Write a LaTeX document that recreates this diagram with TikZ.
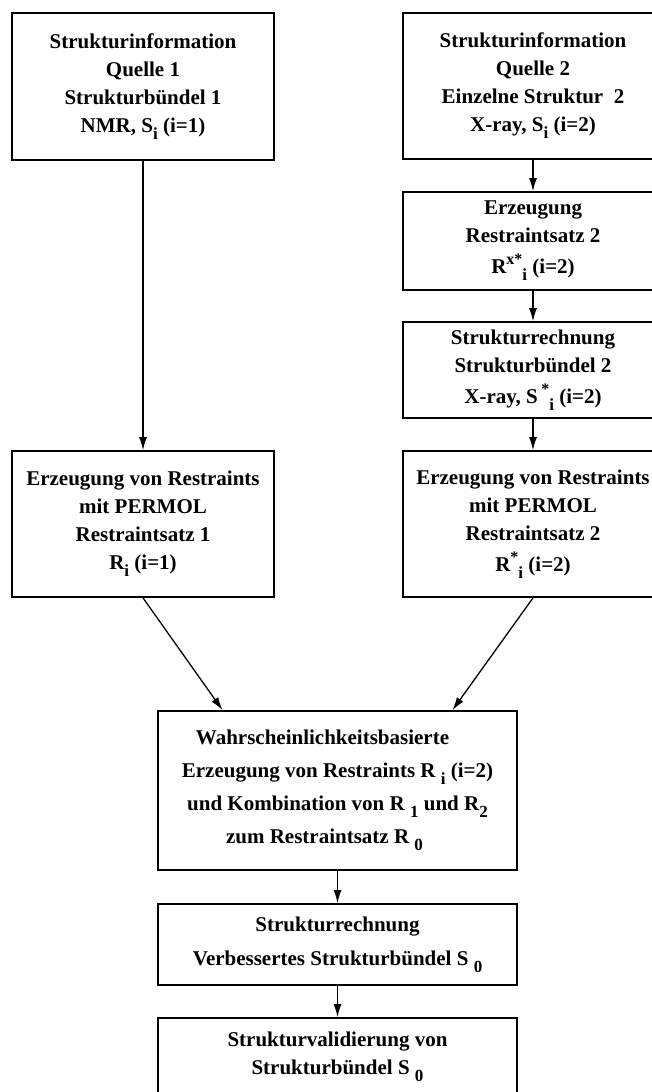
\documentclass[tikz,border=0pt]{standalone}
\usepackage{fontspec}
\setmainfont{Liberation Serif}
\usetikzlibrary{arrows.meta}
% raised and lowered indices, set as plain bold text
\newcommand\upidx[1]{\raisebox{0.42em}{\fontsize{16}{16}\selectfont #1}}
\newcommand\dnidx[1]{\raisebox{-0.34em}{\fontsize{17}{17}\selectfont #1}}
\begin{document}
\begin{tikzpicture}[x=1pt,y=-1pt,
  box/.style={draw,line width=1.8pt,rectangle,inner sep=0pt,align=center,
    font=\fontsize{21}{28}\selectfont\bfseries},
  flow/.style={line width=1.3pt,-{Latex[length=13pt,width=8pt]}}]
\useasboundingbox (0,0) rectangle (652,1092);
\fill[white] (0,0) rectangle (652,1092);
\clip (0,0) rectangle (652,1092);

% left column
\node[box,minimum width=262pt,minimum height=147pt] (srcA) at (143,86.5)
  {Strukturinformation\\ Quelle 1\\ Strukturbündel 1\\ NMR, S\dnidx{i} (i=1)};
\node[box,minimum width=262pt,minimum height=146pt] (resA) at (143,524)
  {Erzeugung von Restraints\\ mit PERMOL\\ Restraintsatz 1\\ R\dnidx{i} (i=1)};

% right column (runs past the right edge)
\node[box,minimum width=260pt,minimum height=146pt] (srcB) at (533,86)
  {Strukturinformation\\ Quelle 2\\ Einzelne Struktur~~2\\ X-ray, S\dnidx{i} (i=2)};
\node[box,minimum width=260pt,minimum height=98pt] (genB) at (533,241)
  {Erzeugung\\ Restraintsatz 2\\[3pt] R\upidx{x*}\dnidx{i} (i=2)};
\node[box,minimum width=260pt,minimum height=96pt] (calcB) at (533,370)
  {Strukturrechnung\\ Strukturbündel 2\\[3pt] X-ray, S\,\upidx{*}\dnidx{i} (i=2)};
\node[box,minimum width=260pt,minimum height=146pt] (resB) at (533,524)
  {Erzeugung von Restraints\\ mit PERMOL\\ Restraintsatz 2\\[3pt] R\upidx{*}\dnidx{i} (i=2)};

% merged chain
\node[box,minimum width=359pt,minimum height=159pt] (comb) at (337.5,790.5)
  {Wahrscheinlichkeitsbasierte\hspace*{30pt}\\[5pt]
   Erzeugung von Restraints R \dnidx{i} (i=2)\\[5pt]
   und Kombination von R \dnidx{1} und R\dnidx{2}\\[5pt]
   zum Restraintsatz R \dnidx{0}\hspace*{26pt}};
\node[box,minimum width=359pt,minimum height=81pt] (calc0) at (337.5,944.5)
  {Strukturrechnung\\[6pt] Verbessertes Strukturbündel S \dnidx{0}};
\node[box,minimum width=359pt,minimum height=78pt] (valid) at (337.5,1057)
  {Strukturvalidierung von\\ Strukturbündel S \dnidx{0}};

% connectors
\draw[flow] (srcA) -- (resA);
\draw[flow] (srcB) -- (genB);
\draw[flow] (genB) -- (calcB);
\draw[flow] (calcB) -- (resB);
\draw[flow] (resA.south) -- ([xshift=-115pt]comb.north);
\draw[flow] (resB.south) -- ([xshift=115pt]comb.north);
\draw[flow] (comb) -- (calc0);
\draw[flow] (calc0) -- (valid);
\end{tikzpicture}
\end{document}
